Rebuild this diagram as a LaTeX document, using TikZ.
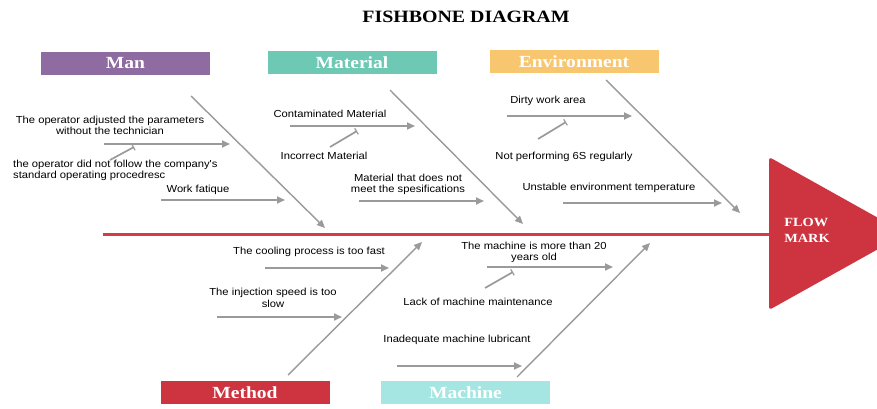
\documentclass[tikz,border=0pt]{standalone}
\usepackage{fontspec}
\setmainfont{Liberation Serif}
\newfontfamily\causefont{Liberation Sans}[FakeStretch=1.1]
\newfontfamily\boxfont{Liberation Serif}[FakeStretch=1.15]
\usepackage{xcolor}
\usepackage{tikz}
\usetikzlibrary{calc}
\usetikzlibrary{arrows.meta}

\definecolor{manC}{HTML}{8E6BA0}
\definecolor{matC}{HTML}{6DC8B4}
\definecolor{envC}{HTML}{F8C66E}
\definecolor{metC}{HTML}{CD3440}
\definecolor{macC}{HTML}{A6E6E2}
\definecolor{spineC}{HTML}{D93A45}
\definecolor{boneC}{HTML}{9A9A9A}

\begin{document}
\begin{tikzpicture}[x=1pt,y=-1pt,
		cause/.style={draw=boneC,line width=1.7pt,-{Triangle[length=8pt,width=7pt]}},
		tee/.style={draw=boneC,line width=1.7pt,-{Bar[width=7pt,line width=1.2pt]}},
		bone/.style={draw=boneC,line width=1.4pt,-{Triangle[length=8pt,width=7pt]}},
		lbl/.style={font=\causefont\fontsize{10.2}{11.5}\selectfont,align=center,inner sep=0pt},
		catbox/.style={minimum width=169pt,minimum height=23pt,inner sep=0pt,
			font=\boxfont\bfseries\fontsize{17}{18}\selectfont,text=white}]
		% ---- Page frame ----
		\clip (0,0) rectangle (877,409);
		\fill[white] (0,0) rectangle (877,409);
		
		% ---- Title ----
		\node[font=\boxfont\bfseries\fontsize{17.3}{18}\selectfont] (title) at (466,17) {FISHBONE DIAGRAM};
		
		% ---- Head and spine ----
		\fill[metC,rounded corners=3pt] (769,157) -- (906,233.5) -- (769,310) -- cycle;
		\node[font=\boxfont\bfseries\fontsize{12.5}{16}\selectfont,text=white,align=left] (head) at (807,230) {FLOW\\MARK};
		\coordinate (tail) at (103,234);
		\coordinate (neck) at (769,234);
		\draw[spineC,line width=3pt] (tail) -- (neck);
		
		% ---- Category boxes ----
		\node[catbox,fill=manC] (man) at (125.5,63.5) {Man};
		\node[catbox,fill=matC] (material) at (352,63) {Material};
		\node[catbox,fill=envC] (environment) at (574,62) {Environment};
		\node[catbox,fill=metC] (method) at (245,392.5) {Method};
		\node[catbox,fill=macC] (machine) at (465.5,392.5) {Machine};
		
		% ---- Main bones ----
		\coordinate (manA) at (191,96);   \coordinate (manB) at (325,228);
		\coordinate (matA) at (390,90);   \coordinate (matB) at (523,224);
		\coordinate (envA) at (606,80);   \coordinate (envB) at (740,213);
		\coordinate (metA) at (288,375);  \coordinate (metB) at (422,242);
		\coordinate (macA) at (517,377);  \coordinate (macB) at (650,243);
		\draw[bone] (manA) -- (manB);
		\draw[bone] (matA) -- (matB);
		\draw[bone] (envA) -- (envB);
		\draw[bone] (metA) -- (metB);
		\draw[bone] (macA) -- (macB);
		
		% ---- Man causes ----
		\node[lbl] (man1) at (110,125.5) {The operator adjusted the parameters\\without the technician};
		\node[lbl,align=left,anchor=west] (man2) at (13,170.5) {the operator did not follow the company's\\standard operating procedresc};
		\node[lbl] (man3) at (198,190) {Work fatique};
		\coordinate (man1a) at (104,144); \coordinate (man1b) at (230,144);
		\coordinate (man2a) at (110,160); \coordinate (man2b) at (134,147);
		\coordinate (man3a) at (161,200); \coordinate (man3b) at (285,200);
		\draw[cause] (man1a) -- (man1b);
		\draw[tee] (man2a) -- (man2b);
		\draw[cause] (man3a) -- (man3b);
		
		% ---- Material causes ----
		\node[lbl] (mat1) at (330,114) {Contaminated Material};
		\node[lbl] (mat2) at (324,156) {Incorrect Material};
		\node[lbl] (mat3) at (408,184.5) {Material that does not\\meet the spesifications};
		\coordinate (mat1a) at (290,126); \coordinate (mat1b) at (415,126);
		\coordinate (mat2a) at (330,147); \coordinate (mat2b) at (357,131);
		\coordinate (mat3a) at (359,201); \coordinate (mat3b) at (484,201);
		\draw[cause] (mat1a) -- (mat1b);
		\draw[tee] (mat2a) -- (mat2b);
		\draw[cause] (mat3a) -- (mat3b);
		
		% ---- Environment causes ----
		\node[lbl] (env1) at (548,101) {Dirty work area};
		\node[lbl] (env2) at (564,157) {Not performing 6S regularly};
		\node[lbl] (env3) at (609,188) {Unstable environment temperature};
		\coordinate (env1a) at (507,116); \coordinate (env1b) at (632,116);
		\coordinate (env2a) at (538,139); \coordinate (env2b) at (566,122);
		\coordinate (env3a) at (563,203); \coordinate (env3b) at (722,203);
		\draw[cause] (env1a) -- (env1b);
		\draw[tee] (env2a) -- (env2b);
		\draw[cause] (env3a) -- (env3b);
		
		% ---- Method causes ----
		\node[lbl] (met1) at (309,252) {The cooling process is too fast};
		\node[lbl] (met2) at (273,298) {The injection speed is too\\slow};
		\coordinate (met1a) at (265,268); \coordinate (met1b) at (389,268);
		\coordinate (met2a) at (217,317); \coordinate (met2b) at (342,317);
		\draw[cause] (met1a) -- (met1b);
		\draw[cause] (met2a) -- (met2b);
		
		% ---- Machine causes ----
		\node[lbl] (mac1) at (534,252.5) {The machine is more than 20\\years old};
		\node[lbl] (mac2) at (478,302) {Lack of machine maintenance};
		\node[lbl] (mac3) at (457,340) {Inadequate machine lubricant};
		\coordinate (mac1a) at (487,267); \coordinate (mac1b) at (613,267);
		\coordinate (mac2a) at (485,288); \coordinate (mac2b) at (513,272);
		\coordinate (mac3a) at (397,366); \coordinate (mac3b) at (522,366);
		\draw[cause] (mac1a) -- (mac1b);
		\draw[tee] (mac2a) -- (mac2b);
		\draw[cause] (mac3a) -- (mac3b);
		
\end{tikzpicture}
\end{document}
